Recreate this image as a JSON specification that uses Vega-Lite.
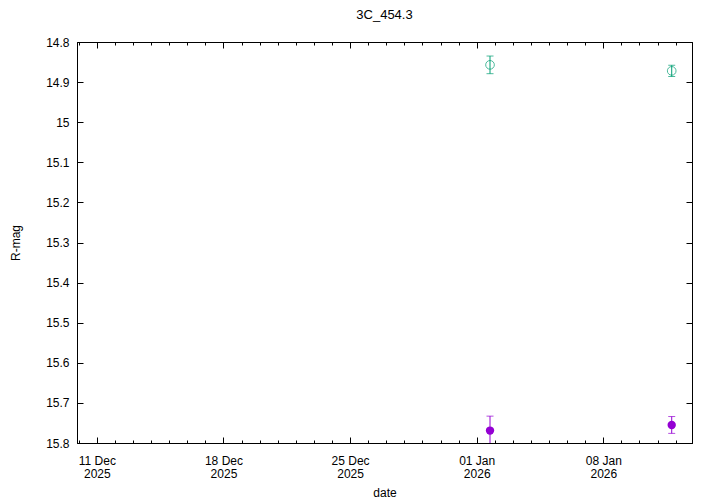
{
  "$schema": "https://vega.github.io/schema/vega-lite/v6.json",
  "width": 615,
  "height": 401,
  "autosize": {"type": "none"},
  "padding": {"left": 77, "top": 42, "right": 28, "bottom": 61},
  "background": "white",
  "title": {"text": "3C_454.3", "font": "Liberation Sans", "fontSize": 13, "fontWeight": "normal", "color": "black", "offset": 14},
  "config": {
    "view": {"stroke": "black", "strokeWidth": 1},
    "axis": {
      "grid": false,
      "domainColor": "black",
      "tickColor": "black",
      "labelColor": "black",
      "titleColor": "black",
      "labelFont": "Liberation Sans",
      "titleFont": "Liberation Sans",
      "labelFontSize": 12,
      "titleFontSize": 12,
      "titleFontWeight": "normal"
    }
  },
  "data": {
    "values": [
      {"date": "2026-01-01T17:40:00", "mag": 14.857, "err": 0.022, "series": "A"},
      {"date": "2026-01-11T18:45:00", "mag": 14.872, "err": 0.014, "series": "A"},
      {"date": "2026-01-01T17:40:00", "mag": 15.769, "err": 0.036, "series": "B"},
      {"date": "2026-01-11T18:45:00", "mag": 15.755, "err": 0.021, "series": "B"}
    ]
  },
  "layer": [
    {
      "mark": {"type": "errorbar", "ticks": {"size": 7, "thickness": 1}, "thickness": 1, "clip": true},
      "encoding": {
        "x": {
          "field": "date", "type": "temporal",
          "scale": {"domain": ["2025-12-09T21:40:00", "2026-01-12T21:40:00"]},
          "axis": {
            "orient": "bottom",
            "title": "date",
            "titlePadding": 8,
            "tickCount": {"interval": "day", "step": 1},
            "tickSize": {"condition": {"test": "day(datum.value) == 4", "value": -6}, "value": -3},
            "labelPadding": 18,
            "labelOverlap": false,
            "labelBound": false,
            "labelFlush": false,
            "labelLineHeight": 13,
            "labelExpr": "day(datum.value) == 4 ? [timeFormat(datum.value, '%d %b'), timeFormat(datum.value, '%Y')] : ''"
          }
        },
        "y": {
          "field": "mag", "type": "quantitative",
          "scale": {"domain": [14.8, 15.8], "reverse": true, "zero": false, "nice": false},
          "axis": {
            "orient": "left",
            "title": "R-mag",
            "titlePadding": 23,
            "values": [14.8, 14.9, 15.0, 15.1, 15.2, 15.3, 15.4, 15.5, 15.6, 15.7, 15.8],
            "format": ".1~f",
            "tickSize": -6,
            "labelPadding": 14
          }
        },
        "yError": {"field": "err"},
        "color": {"field": "series", "type": "nominal", "scale": {"domain": ["A", "B"], "range": ["#009e73", "#9400d3"]}, "legend": null}
      }
    },
    {
      "transform": [{"filter": "datum.series == 'A'"}],
      "mark": {"type": "point", "filled": false, "size": 75, "strokeWidth": 1, "clip": true},
      "encoding": {
        "x": {
          "field": "date", "type": "temporal",
          "scale": {"domain": ["2025-12-09T21:40:00", "2026-01-12T21:40:00"]},
          "axis": {
            "orient": "top",
            "title": null,
            "labels": false,
            "tickCount": {"interval": "day", "step": 1},
            "tickSize": {"condition": {"test": "day(datum.value) == 4", "value": -6}, "value": -3}
          }
        },
        "y": {
          "field": "mag", "type": "quantitative",
          "scale": {"domain": [14.8, 15.8], "reverse": true, "zero": false, "nice": false},
          "axis": {
            "orient": "right",
            "title": null,
            "labels": false,
            "values": [14.8, 14.9, 15.0, 15.1, 15.2, 15.3, 15.4, 15.5, 15.6, 15.7, 15.8],
            "tickSize": -6
          }
        },
        "color": {"field": "series", "type": "nominal", "scale": {"domain": ["A", "B"], "range": ["#009e73", "#9400d3"]}, "legend": null}
      }
    },
    {
      "transform": [{"filter": "datum.series == 'B'"}],
      "mark": {"type": "point", "filled": true, "opacity": 1, "size": 70, "clip": true},
      "encoding": {
        "x": {"field": "date", "type": "temporal", "axis": null},
        "y": {"field": "mag", "type": "quantitative", "axis": null},
        "color": {"field": "series", "type": "nominal", "scale": {"domain": ["A", "B"], "range": ["#009e73", "#9400d3"]}, "legend": null}
      }
    }
  ],
  "resolve": {"axis": {"x": "independent", "y": "independent"}}
}
